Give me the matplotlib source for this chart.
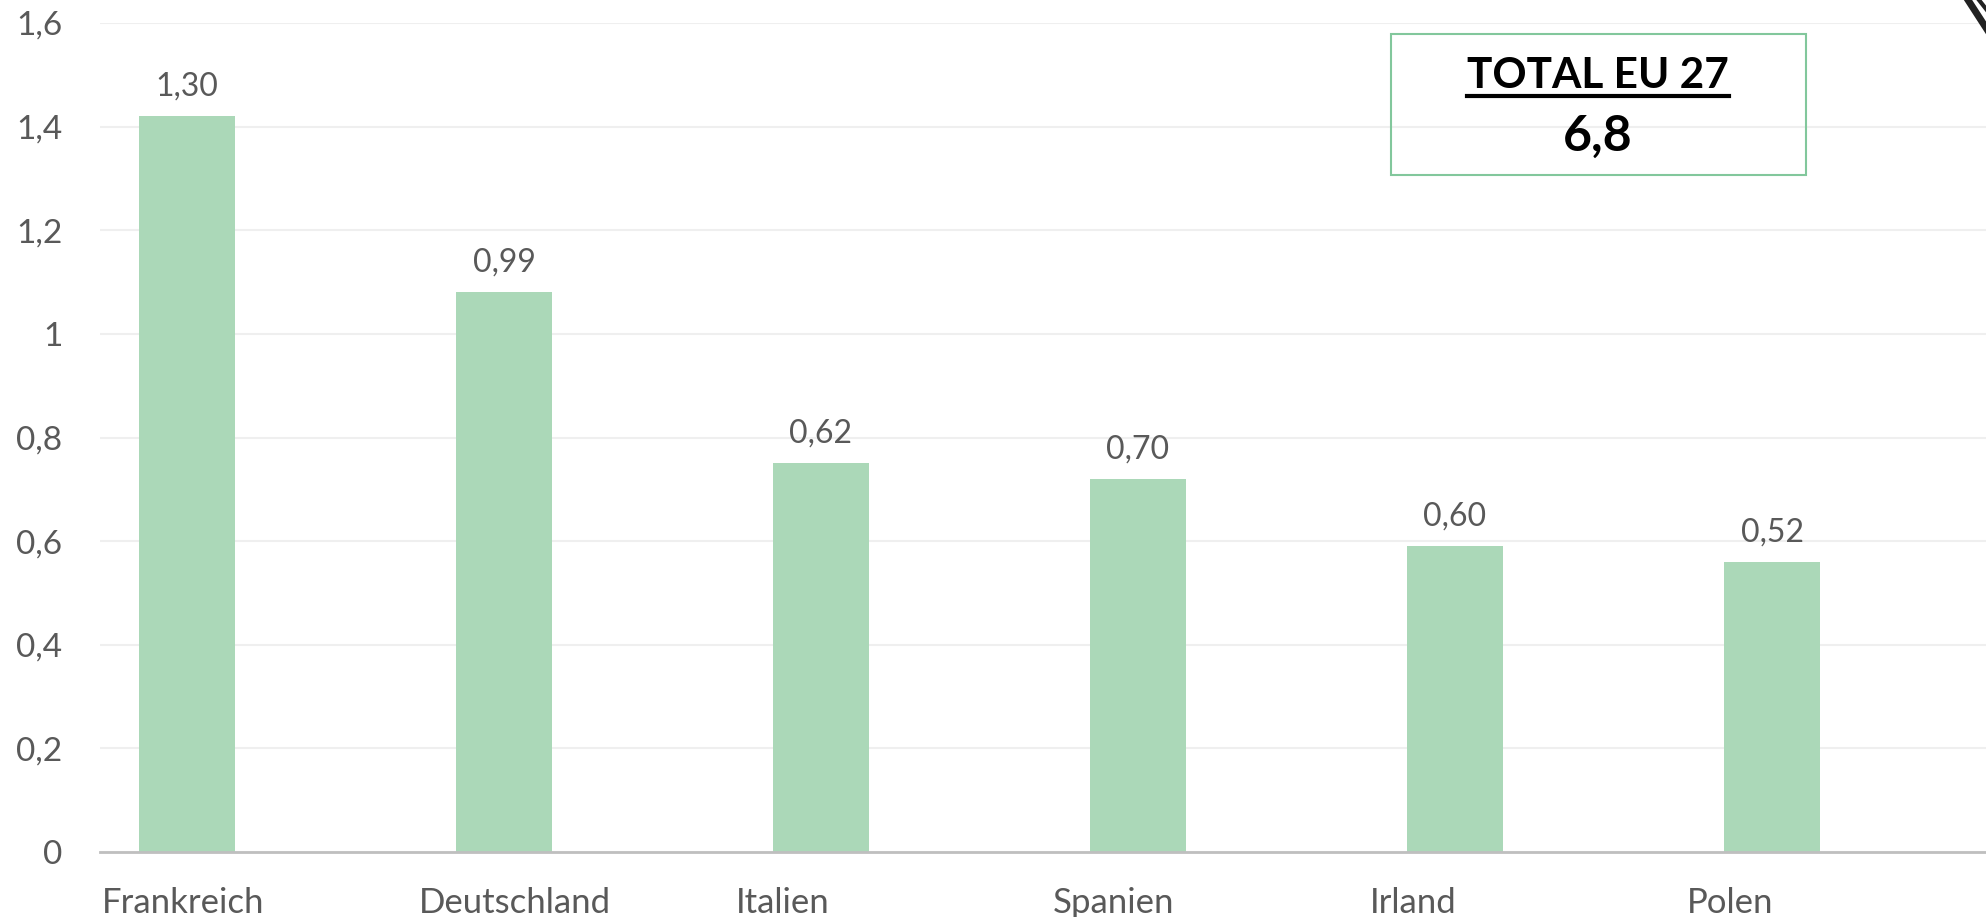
import matplotlib.pyplot as plt
from matplotlib.patches import Rectangle

laender = ['Frankreich', 'Deutschland', 'Italien', 'Spanien', 'Irland', 'Polen']
hoehen = [1.42, 1.08, 0.75, 0.72, 0.59, 0.56]
beschriftung = ['1,30', '0,99', '0,62', '0,70', '0,60', '0,52']
y_ticks = [0, 0.2, 0.4, 0.6, 0.8, 1, 1.2, 1.4, 1.6]
y_labels = ['0', '0,2', '0,4', '0,6', '0,8', '1', '1,2', '1,4', '1,6']
total_titel = 'TOTAL EU 27'
total_wert = '6,8'

plt.rcParams['font.family'] = ['Lato', 'DejaVu Sans']
grau = '#595959'

fig = plt.figure(figsize=(19.86, 9.17), dpi=100)
ax = fig.add_axes([0.0504, 0.0709, 0.9496, 0.904])

x = range(len(laender))
ax.bar(x, hoehen, width=0.30, color='#abd8b8', zorder=3)

for i, (h, t) in enumerate(zip(hoehen, beschriftung)):
    ax.annotate(t, (i, h), xytext=(0, 10.5), textcoords='offset points',
                ha='center', va='bottom', fontsize=23, color=grau)

# Kategorienamen: linksbündig, etwas links von der Balkenmitte
for i, name in enumerate(laender):
    ax.annotate(name, (i - 0.268, 0), xycoords=('data', 'axes fraction'),
                xytext=(0, -44), textcoords='offset points',
                ha='left', va='baseline', fontsize=25, color=grau,
                annotation_clip=False)

ax.set_xlim(-0.274, 5.675)
ax.set_ylim(0, 1.6)
ax.set_yticks(y_ticks)
ax.set_yticklabels(y_labels, fontsize=24, color=grau)
ax.set_xticks(list(x))
ax.set_xticklabels([])
ax.tick_params(axis='y', length=0, pad=27)
ax.tick_params(axis='x', length=0)
ax.grid(axis='y', color='#efefef', linewidth=1.5, zorder=0)
for s in ['top', 'right', 'left']:
    ax.spines[s].set_visible(False)
ax.spines['bottom'].set_color('#bfbfbf')
ax.spines['bottom'].set_linewidth(2)
ax.spines['bottom'].set_zorder(4)

# Kasten mit Gesamtwert
box = Rectangle((1391 / 1986, 1 - 175 / 917), 415 / 1986, 141 / 917,
                transform=fig.transFigure, facecolor='none',
                edgecolor='#82c79c', linewidth=1.5)
fig.patches.append(box)
tt = fig.text(1598 / 1986, 1 - 88 / 917, total_titel, ha='center', va='baseline',
              fontsize=30.5, fontweight='bold', color='black')
fig.text(1598 / 1986, 1 - 151 / 917, total_wert, ha='center', va='baseline',
         fontsize=36, fontweight='bold', color='black')
fig.canvas.draw()
bb = tt.get_window_extent()
fig.add_artist(plt.Line2D([bb.x0 / 1986, bb.x1 / 1986], [1 - 96 / 917, 1 - 96 / 917],
                          transform=fig.transFigure, color='black', linewidth=3))

# schwarzer Rest oben rechts
fig.add_artist(plt.Line2D([1968 / 1986, 1990 / 1986], [1.0, 1 - 34 / 917],
                          transform=fig.transFigure, color='#222222', linewidth=5))
fig.add_artist(plt.Line2D([1979 / 1986, 1990 / 1986], [1.0, 1 - 14 / 917],
                          transform=fig.transFigure, color='#222222', linewidth=3))

plt.savefig('out.png', dpi=100)
